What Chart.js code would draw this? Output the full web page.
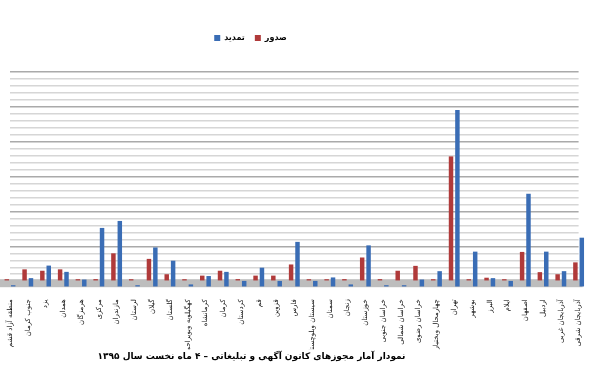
<!DOCTYPE html>
<html>
<head>
<meta charset="utf-8">
<script src="https://cdn.jsdelivr.net/npm/chart.js@4"></script>
<style>
	body { margin: 0; background: #fff; }
	#wrap { width: 597px; height: 391px; }
</style>
</head>
<body>
<div id="wrap"><canvas id="permitChart"></canvas></div>
<script>
const provinces = [
	'منطقه آزاد قشم', 'جنوب کرمان', 'یزد', 'همدان', 'هرمزگان', 'مرکزی', 'مازندران', 'لرستان',
	'گیلان', 'گلستان', 'کهگیلویه وبویراحمد', 'کرمانشاه', 'کرمان', 'کردستان', 'قم', 'قزوین',
	'فارس', 'سیستان وبلوچستان', 'سمنان', 'زنجان', 'خوزستان', 'خراسان جنوبی', 'خراسان شمالی',
	'خراسان رضوی', 'چهارمحال وبختیاری', 'تهران', 'بوشهر', 'البرز', 'ایلام', 'اصفهان', 'اردبیل',
	'آذربایجان غربی', 'آذربایجان شرقی'
];
// صدور
const issued = [0, 17, 15, 17, 0, 3, 40, 0, 32, 10, 0, 8, 15, 3, 8, 8, 24, 0, 0, 3, 34, 3, 15, 22, 0, 179, 0, 5, 0, 42, 13, 10, 27];
// تمدید
const renewed = [0, 13, 31, 22, 11, 85, 95, 0, 57, 38, 4, 16, 22, 9, 28, 9, 65, 9, 14, 4, 60, 0, 0, 11, 23, 254, 51, 13, 9, 134, 51, 23, 71];

const chartTitle = 'نمودار آمار مجوزهای کانون آگهی و تبلیغاتی – ۴ ماه نخست سال ۱۳۹۵';

Chart.defaults.font.family = "'DejaVu Sans', sans-serif";

// floor band under the bars, the 3D depth shift of the second series,
// and the off-centre legend / title placement of the original
const floorPlugin = {
	id: 'floor',
	beforeDatasetsDraw(chart) {
		const ctx = chart.ctx;
		const area = chart.chartArea;
		const y0 = chart.scales.y.getPixelForValue(0);
		ctx.save();
		ctx.fillStyle = '#bdbdbd';
		ctx.fillRect(0, y0 - 2, area.right + 4, 8);
		ctx.restore();
	},
	beforeDatasetDraw(chart, args) {
		if (args.index === 1) {
			chart.ctx.save();
			chart.ctx.translate(0, 6);
		}
	},
	afterDatasetDraw(chart, args) {
		if (args.index === 1) chart.ctx.restore();
	},
	afterLayout(chart) {
		const lg = chart.legend;
		const dy = 38 - lg.height / 2 - lg.top;
		lg.top += dy;
		lg.bottom += dy;
		lg.left -= 44;
		lg.right -= 44;
		chart.titleBlock.left -= 86;
	}
};

const chart = new Chart(document.getElementById('permitChart'), {
	type: 'bar',
	data: {
		labels: provinces,
		datasets: [{
			label: 'صدور',
			data: issued,
			backgroundColor: '#b03a3a',
			clip: false,
			minBarLength: 2
		}, {
			label: 'تمدید',
			data: renewed,
			backgroundColor: '#3a6db5',
			clip: false,
			minBarLength: 2
		}]
	},
	options: {
		responsive: true,
		maintainAspectRatio: false,
		animation: false,
		categoryPercentage: 0.72,
		barPercentage: 0.7,
		layout: { padding: { top: 44, right: 8, bottom: 27, left: 0 } },
		plugins: {
			legend: {
				position: 'top',
				reverse: true,
				labels: {
					boxWidth: 6,
					boxHeight: 6,
					padding: 10,
					color: '#000',
					font: { size: 8, weight: 'bold' }
				}
			},
			title: {
				display: true,
				position: 'bottom',
				text: chartTitle,
				color: '#000',
				font: { size: 9, weight: 'bold' },
				padding: { top: 2, bottom: 2 }
			},
			tooltip: { enabled: false }
		},
		scales: {
			x: {
				offset: false,
				grid: { display: false },
				border: { display: false },
				ticks: {
					autoSkip: false,
					minRotation: 90,
					maxRotation: 90,
					padding: 10,
					color: '#111',
					font: { size: 7 }
				},
				afterFit(scale) { scale.height = 68; }
			},
			y: {
				min: 0,
				max: 300,
				border: { display: false },
				ticks: { display: false, stepSize: 10 },
				grid: {
					drawTicks: false,
					lineWidth: 1.5,
					color: c => c.tick.value % 50 === 0 ? '#aaaaaa' : '#d6d6d6'
				},
				afterFit(scale) { scale.width = 0; }
			}
		}
	},
	plugins: [floorPlugin]
});
</script>
</body>
</html>
